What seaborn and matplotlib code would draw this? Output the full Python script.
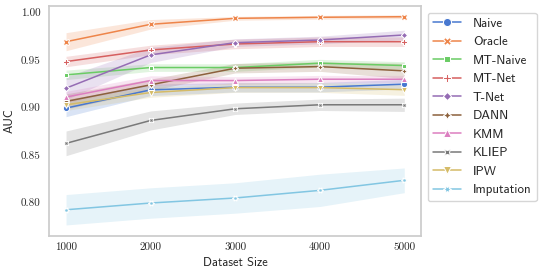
import numpy as np
import pandas as pd
import matplotlib
matplotlib.use("Agg")
import matplotlib.pyplot as plt
import seaborn as sns

sizes = [1000, 2000, 3000, 4000, 5000]
methods = ["Naive", "Oracle", "MT-Naive", "MT-Net", "T-Net",
           "DANN", "KMM", "KLIEP", "IPW", "Imputation"]

# mean AUC per method
naive = [0.8996, 0.9188, 0.9216, 0.9216, 0.9248]
oracle = [0.9695, 0.9878, 0.9941, 0.9952, 0.9958]
mt_naive = [0.9346, 0.9423, 0.9423, 0.9469, 0.9444]
mt_net = [0.9486, 0.9608, 0.9671, 0.9695, 0.9695]
t_net = [0.9206, 0.9556, 0.9685, 0.9713, 0.9766]
dann = [0.9066, 0.9241, 0.9416, 0.9433, 0.9388]
kmm = [0.9112, 0.9286, 0.9286, 0.9300, 0.9300]
kliep = [0.8625, 0.8866, 0.8989, 0.9031, 0.9031]
ipw = [0.9031, 0.9160, 0.9212, 0.9212, 0.9190]
imputation = [0.7926, 0.7997, 0.8050, 0.8130, 0.8236]

# half width of the shaded band
naive_err = [0.009, 0.006, 0.005, 0.005, 0.005]
oracle_err = [0.0095, 0.005, 0.002, 0.002, 0.002]
mt_naive_err = [0.005, 0.004, 0.004, 0.004, 0.004]
mt_net_err = [0.0055, 0.005, 0.005, 0.005, 0.005]
t_net_err = [0.012, 0.008, 0.004, 0.004, 0.005]
dann_err = [0.008, 0.006, 0.005, 0.005, 0.008]
kmm_err = [0.006, 0.005, 0.004, 0.004, 0.004]
kliep_err = [0.013, 0.010, 0.006, 0.006, 0.007]
ipw_err = [0.006, 0.005, 0.005, 0.005, 0.006]
imputation_err = [0.016, 0.016, 0.016, 0.017, 0.013]

means = [naive, oracle, mt_naive, mt_net, t_net, dann, kmm, kliep, ipw, imputation]
errs = [naive_err, oracle_err, mt_naive_err, mt_net_err, t_net_err,
        dann_err, kmm_err, kliep_err, ipw_err, imputation_err]

sns.set_theme(style="whitegrid")
plt.rcParams["axes.grid"] = False

rows = []
for m, vals in zip(methods, means):
    for s, v in zip(sizes, vals):
        rows.append({"Dataset Size": s, "AUC": v, "Method": m})
df = pd.DataFrame(rows)

palette = dict(zip(methods, sns.color_palette("muted", 10)))

fig, ax = plt.subplots(figsize=(5.4, 2.76), dpi=100)

for m, vals, e in zip(methods, means, errs):
    vals = np.array(vals)
    e = np.array(e)
    ax.fill_between(sizes, vals - e, vals + e, color=palette[m], alpha=0.2, linewidth=0)

sns.lineplot(data=df, x="Dataset Size", y="AUC", hue="Method", style="Method",
             markers=True, dashes=False, palette=palette, linewidth=1.1,
             markersize=4.5, ax=ax)

ax.set_xticks(sizes)
ax.set_ylim(0.765, 1.007)
ax.set_yticks([0.80, 0.85, 0.90, 0.95, 1.00])
ax.set_yticklabels(["0.80", "0.85", "0.90", "0.95", "1.00"])
ax.tick_params(axis="x", length=0, pad=5)
ax.tick_params(axis="y", length=0, pad=6)
for lab in ax.get_xticklabels() + ax.get_yticklabels():
    lab.set_family("cmr10")
    lab.set_fontsize(8)
ax.set_xlabel("Dataset Size", family="cmss10", fontsize=9, labelpad=3)
ax.set_ylabel("AUC", family="cmss10", fontsize=9, labelpad=4)

sns.move_legend(ax, "upper left", bbox_to_anchor=(1, 1), title=None,
                prop={"family": "cmss10", "size": 9.3},
                handlelength=2.2, handletextpad=0.9, markerscale=1.3)

plt.subplots_adjust(left=0.091, right=0.78, top=0.978, bottom=0.145)
plt.savefig("out.png", dpi=100)
